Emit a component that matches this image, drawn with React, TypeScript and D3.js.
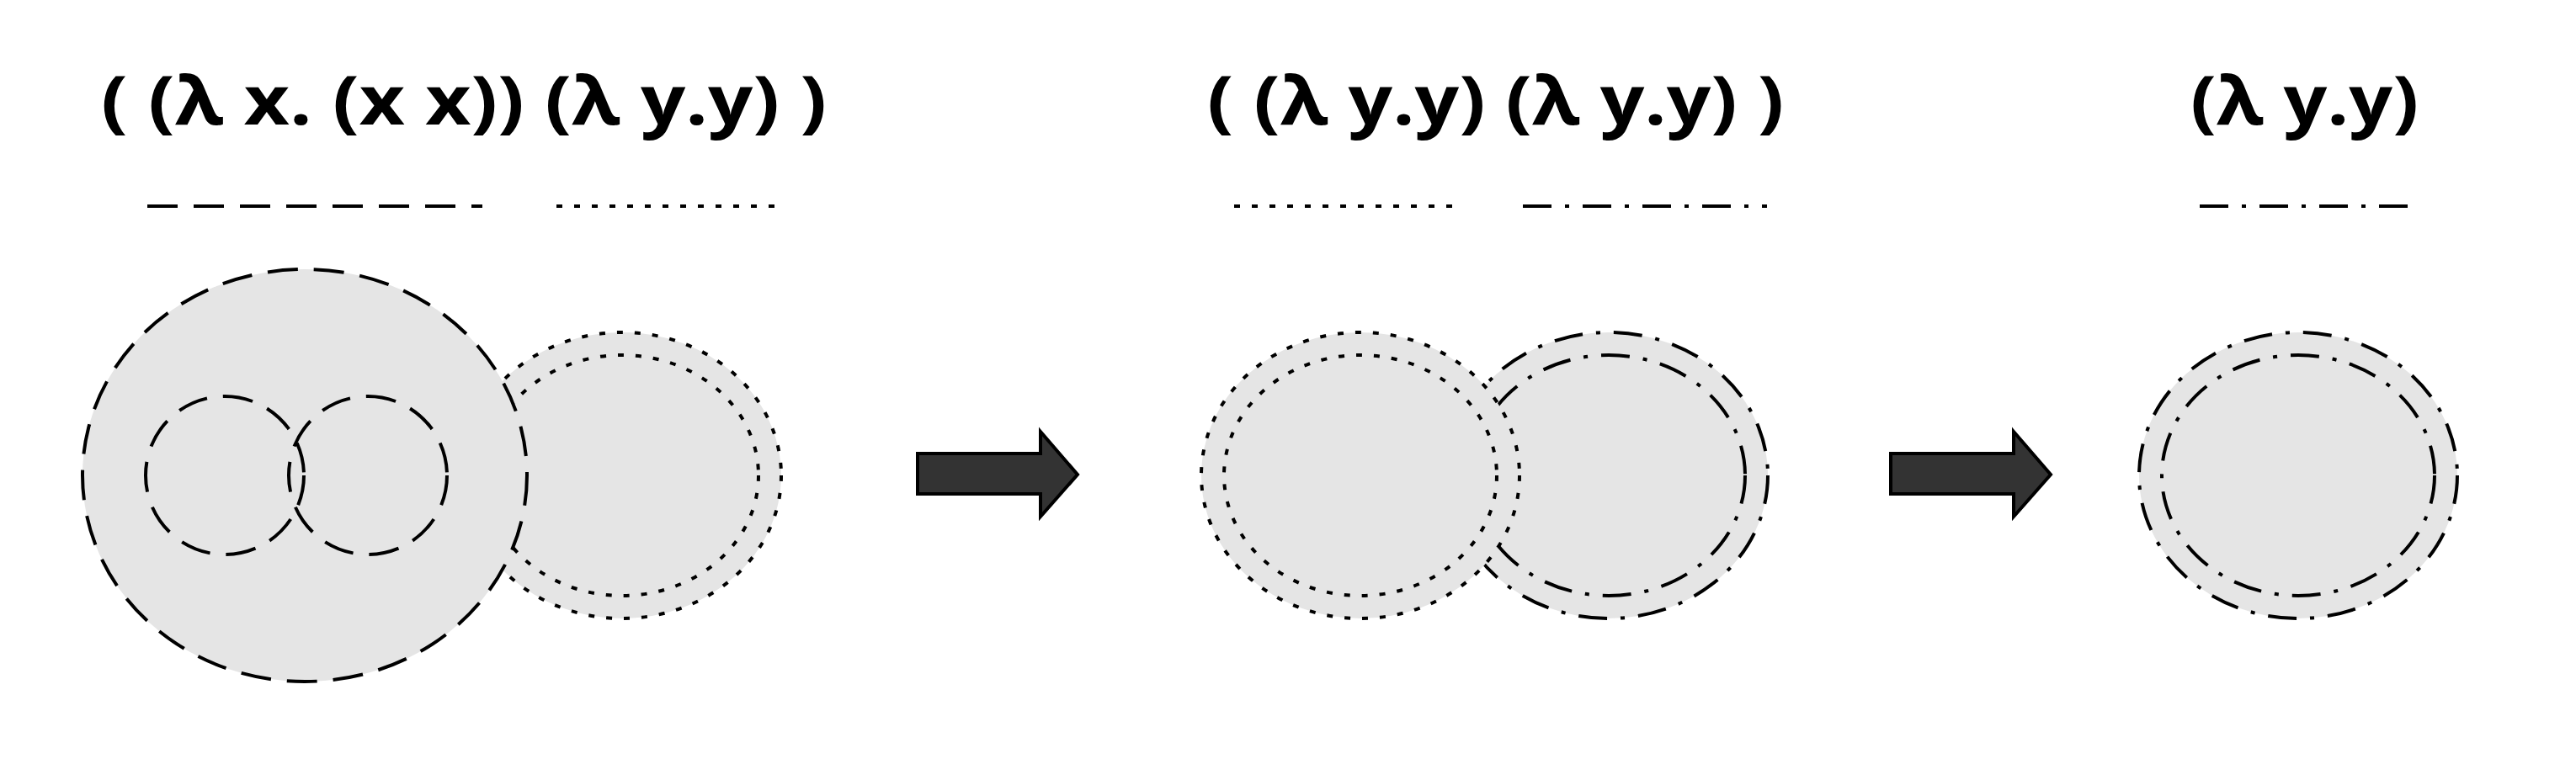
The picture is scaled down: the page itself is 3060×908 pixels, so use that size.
import * as d3 from "d3";

const titles = ["( (λ x. (x x)) (λ y.y) )", "( (λ y.y) (λ y.y) )", "(λ y.y)"];
const titleSpans = [[112, 974], [1426, 2111], [2594, 2865]];
const underlines = [
  { x: [167, 565], style: "dash" },
  { x: [653, 920], style: "dot" },
  { x: [1458, 1723], style: "dot" },
  { x: [1801, 2091], style: "dashdot" },
  { x: [2605, 2855], style: "dashdot" },
];
// term blobs, drawn in order (later ones on top)
const blobs = [
  { cx: 731, rx: 189, ry: 170, style: "dot", inner: true },
  { cx: 354, rx: 264, ry: 245, style: "dash", inner: false },
  { cx: 1903, rx: 189, ry: 170, style: "dashdot", inner: true },
  { cx: 1608, rx: 189, ry: 170, style: "dot", inner: true },
  { cx: 2722, rx: 189, ry: 170, style: "dashdot", inner: true },
];
const vars = [259, 429];
const arrows = [1082, 2238];

const dashes: Record<string, string> = {
  dash: "36 19",
  dot: "7 14",
  dashdot: "34 16 5 16",
};

const W = 3044;
const H = 892;
const CY = 557;

export default function App() {
  const x = d3.scaleLinear().domain([0, W]).range([0, W]);
  const arrowPath = (x0: number) => {
    const p = d3.path();
    p.moveTo(x(x0), 531);
    p.lineTo(x(x0 + 146), 531);
    p.lineTo(x(x0 + 146), 505);
    p.lineTo(x(x0 + 190), 556);
    p.lineTo(x(x0 + 146), 606);
    p.lineTo(x(x0 + 146), 579);
    p.lineTo(x(x0), 579);
    p.closePath();
    return p.toString();
  };
  return (
    <svg width={W} height={H} style={{ display: "block", background: "#fff" }}>
      {titles.map((t, i) => (
        <text
          key={i}
          x={titleSpans[i][0]}
          y={140}
          textLength={titleSpans[i][1] - titleSpans[i][0]}
          lengthAdjust="spacingAndGlyphs"
          fontFamily="'Open Sans', 'Noto Sans', sans-serif"
          fontWeight="bold"
          fontSize={80}
          fill="#000"
        >
          {t}
        </text>
      ))}
      {underlines.map((u, i) => (
        <line key={i} x1={x(u.x[0])} x2={x(u.x[1])} y1={237} y2={237}
          stroke="#000" strokeWidth={4} strokeDasharray={dashes[u.style]} />
      ))}
      {blobs.map((b, i) => (
        <g key={i}>
          <ellipse cx={x(b.cx)} cy={CY} rx={b.rx} ry={b.ry} fill="#e5e5e5"
            stroke="#000" strokeWidth={4} strokeDasharray={dashes[b.style]} />
          {b.inner && (
            <ellipse cx={x(b.cx)} cy={CY} rx={b.rx - 27} ry={b.ry - 27} fill="none"
              stroke="#000" strokeWidth={4} strokeDasharray={dashes[b.style]} />
          )}
        </g>
      ))}
      {vars.map((v, i) => (
        <circle key={i} cx={x(v)} cy={CY} r={94} fill="none" stroke="#000"
          strokeWidth={4} strokeDasharray={dashes.dash} />
      ))}
      {arrows.map((a, i) => (
        <path key={i} d={arrowPath(a)} fill="#333" stroke="#000" strokeWidth={4} />
      ))}
    </svg>
  );
}
